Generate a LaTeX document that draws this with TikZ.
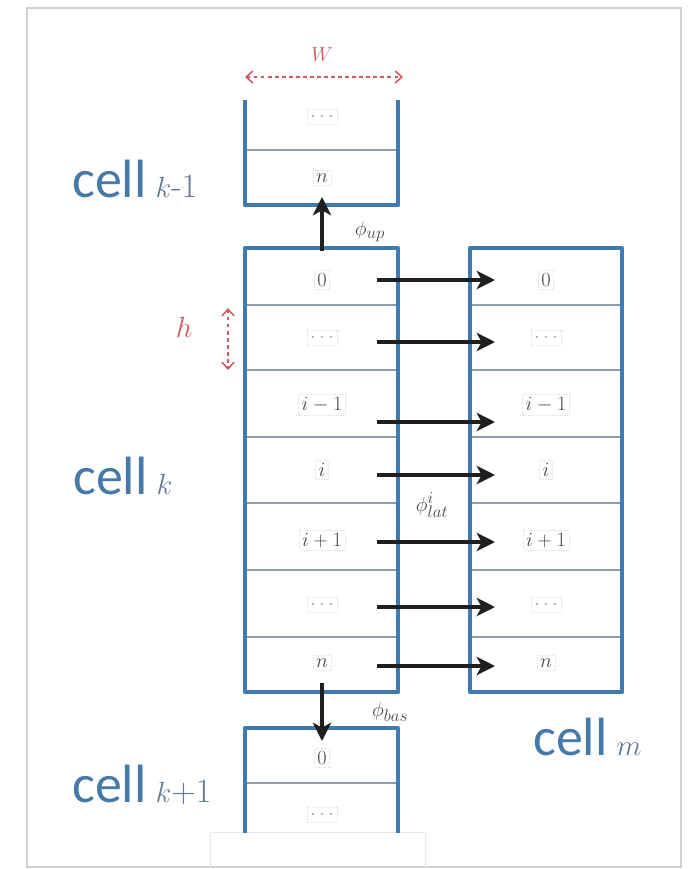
\documentclass[tikz,border=0pt]{standalone}
\usepackage{fontspec}
\setsansfont{Carlito}
\usetikzlibrary{arrows.meta}
\definecolor{cellblue}{HTML}{3F7AB0}
\definecolor{sepgray}{HTML}{8A9CAE}
\definecolor{txtblue}{HTML}{4479AA}
\definecolor{idxblue}{HTML}{5F7A94}
\definecolor{wred}{HTML}{D25A5A}
\definecolor{framegray}{HTML}{D0D0D0}
\newcommand{\idxtxt}[1]{{\color{idxblue}\rmfamily\fontsize{29}{29}\selectfont #1}}
\begin{document}
\begin{tikzpicture}[x=0.03cm,y=-0.03cm,
  cellwall/.style={draw=cellblue,line width=4pt,line join=round},
  sepline/.style={draw=sepgray,line width=2.4pt},
  lbl/.style={draw=gray!22,densely dotted,line width=0.4pt,inner sep=2.5pt,text=black!72,font=\fontsize{17}{17}\selectfont},
  dotlbl/.style={lbl,text=black!35},
  celltitle/.style={text=txtblue,font=\sffamily\fontsize{46}{46}\selectfont,anchor=base west,inner sep=0pt},
  flow/.style={draw=black!88,line width=3.4pt,-{Stealth[length=0.55cm,width=0.55cm,inset=0.15cm]}},
  dimarrow/.style={draw=wred,dashed,line width=1.3pt,{Straight Barb[length=0.2cm,width=0.36cm]}-{Straight Barb[length=0.2cm,width=0.36cm]}},
  dimlbl/.style={text=wred,inner sep=1pt},
  philbl/.style={text=black!72,font=\fontsize{19}{19}\selectfont,inner sep=1pt}
]
% canvas and frame
\fill[white] (0,0) rectangle (687,869);
\useasboundingbox (0,0) rectangle (687,869);
\draw[framegray,line width=2.4pt] (27,8) rectangle (681,867);
\draw[gray!18,line width=0.8pt] (210,832) rectangle (425,869);

% ---------- cell k-1 ----------
\draw[sepline] (245,150) -- (398,150);
\draw[cellwall] (245,100) -- (245,205) -- (398,205) -- (398,100);
\node[dotlbl] (a1) at (322,117) {$\cdots$};
\node[lbl] (an) at (322,178) {$n$};

% ---------- cell k and cell m ----------
\foreach \yy in {305,370,437,503,570,637}{
  \draw[sepline] (245,\yy) -- (398,\yy);
  \draw[sepline] (470,\yy) -- (622,\yy);
}
\draw[cellwall] (245,248) rectangle (398,692);
\draw[cellwall] (470,248) rectangle (622,692);

\foreach \nm/\tx/\yy/\st in {0/{$0$}/280/lbl, d1/{$\cdots$}/338/dotlbl, im/{$i-1$}/405/lbl,
  i/{$i$}/470/lbl, ip/{$i+1$}/540/lbl, d2/{$\cdots$}/605/dotlbl, n/{$n$}/663/lbl}{
  \node[\st] (k\nm) at (322,\yy) {\tx};
  \node[\st] (m\nm) at (546,\yy) {\tx};
}

% lateral arrows
\foreach \nm/\yy in {0/280, d1/342, im/422, i/475, ip/542, d2/607, n/666}{
  \coordinate (s\nm) at (377,\yy);
  \coordinate (t\nm) at (495,\yy);
  \draw[flow] (s\nm) -- (t\nm);
}

% ---------- cell k+1 ----------
\draw[sepline] (245,783) -- (398,783);
\draw[cellwall] (245,833) -- (245,728) -- (398,728) -- (398,833);
\node[lbl] (b0) at (322,758) {$0$};
\node[dotlbl] (b1) at (322,815) {$\cdots$};

% vertical arrows
\coordinate (upS) at (322,251);
\coordinate (upE) at (322,197);
\draw[flow] (upS) -- (upE);
\coordinate (dnS) at (322,683);
\coordinate (dnE) at (322,741);
\draw[flow] (dnS) -- (dnE);

% phi labels
\node[philbl] (pup) at (370,232) {$\phi_{up}$};
\node[philbl] (pbas) at (390,712) {$\phi_{bas}$};
\node[philbl] (plat) at (432,505) {$\phi^{i}_{lat}$};

% dimensions
\coordinate (wl) at (245,77);
\coordinate (wr) at (403,77);
\draw[dimarrow] (wl) -- (wr);
\node[dimlbl,font=\fontsize{17}{17}\selectfont] (wlab) at (322,55) {$W$};
\coordinate (ht) at (228,308);
\coordinate (hb) at (228,370);
\draw[dimarrow] (ht) -- (hb);
\node[dimlbl,font=\fontsize{30}{30}\selectfont] (hlab) at (184,327) {$h$};

% cell titles
\node[celltitle] (tkm) at (72,197) {cell\,\idxtxt{$k$-1}};
\node[celltitle] (tk) at (73,494) {cell\,\idxtxt{$k$}};
\node[celltitle] (tkp) at (72,802) {cell\,\idxtxt{$k$+1}};
\node[celltitle] (tm) at (533,755) {cell\,\idxtxt{$m$}};
\end{tikzpicture}
\end{document}
